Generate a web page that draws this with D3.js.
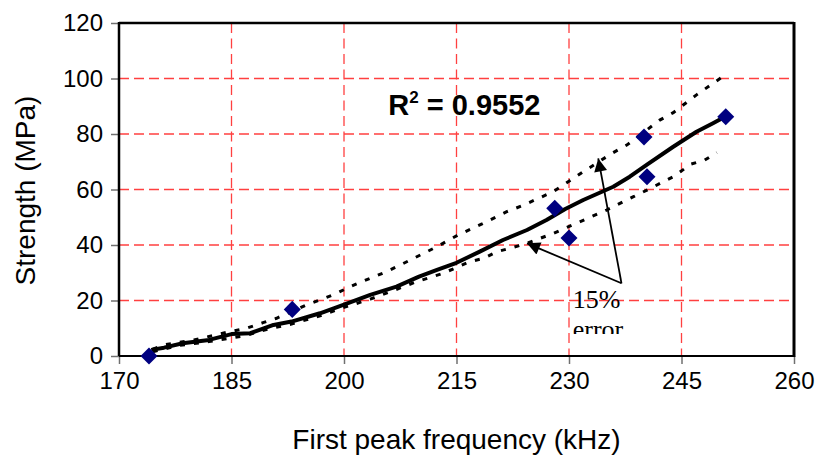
<!DOCTYPE html>
<html>
<head>
<meta charset="utf-8">
<script src="https://cdn.jsdelivr.net/npm/d3@7/dist/d3.min.js"></script>
<style>
  html, body { margin: 0; padding: 0; background: #fff; }
  svg { display: block; }
</style>
</head>
<body>
<svg id="chart" width="817" height="462"></svg>
<script>
// ---- Data ----
// Measured points (frequency kHz, strength MPa)
const pointFreq = [174, 193.1, 228.1, 230, 240, 240.4, 250.9];
const pointStrength = [0, 16.8, 53.2, 42.5, 78.9, 64.6, 86.2];

// Fitted curve (solid)
const fitFreq = [174.3, 176, 178.5, 182, 185, 187.5, 190.6, 193, 196.8, 200, 203.5, 207, 210, 212.4, 215, 218.1, 221.2, 224.4, 227, 229.5, 231.9, 235.9, 238.1, 240.4, 243.9, 247, 249.2, 250.8];
const fitStrength = [2.2, 3.0, 4.6, 5.8, 7.9, 8.2, 11.2, 12.4, 15.4, 18.5, 22.0, 25.0, 28.6, 31.0, 33.6, 37.6, 41.8, 45.4, 49.0, 53.0, 56.2, 61.0, 64.6, 69.0, 75.4, 80.8, 83.9, 86.2];

// Upper 15% bound (dotted)
const upperFreq = [174.5, 176, 180, 184.8, 187, 189.2, 191, 195, 197, 198.8, 200.6, 202.4, 205.7, 209, 212.4, 215.2, 218.4, 221.7, 223.7, 227.9, 231.9, 235.7, 237.7, 242.1, 243.9, 247, 249.5, 251];
const upperStrength = [2.5, 4.0, 5.8, 8.8, 10.0, 12.0, 13.6, 18.4, 20.4, 22.3, 24.7, 26.8, 30.4, 34.8, 39.4, 43.6, 47.6, 52.0, 54.1, 59.2, 66.4, 73.0, 76.0, 85.0, 87.7, 94.1, 98.8, 101.6];

// Lower 15% bound (dotted)
const lowerFreq = [174.5, 178, 182, 186.6, 190, 193, 196.8, 200, 203.5, 206.5, 209.7, 213.2, 216.8, 218.6, 220.4, 222.1, 224.4, 227.9, 231.5, 235, 238.6, 240.4, 243.9, 246.3, 248.1, 249.7];
const lowerStrength = [1.5, 3.8, 5.2, 7.2, 9.8, 11.5, 14.5, 17.5, 20.5, 23.5, 26.8, 29.8, 34.0, 35.2, 37.6, 38.8, 40.6, 44.2, 48.4, 52.6, 57.4, 59.8, 64.6, 69.2, 70.6, 73.3];

// Axis ticks
const xTicks = [170, 185, 200, 215, 230, 245, 260];
const yTicks = [0, 20, 40, 60, 80, 100, 120];

// Annotations (data units)
const r2Label = { text: "0.9552", x: 205.9, y: 86.8 };
const arrowOrigin = [237.0, 26.2];
const arrowTips = [[233.9, 71.2], [224.4, 40.6]];
const errorLabel = { lines: ["15%", "error"], x: 230.5, y: 17.3, clipY: 7.9 };

// ---- Layout ----
const svg = d3.select("#chart");
const m = { left: 119, right: 794, top: 23, bottom: 356 };
const x = d3.scaleLinear().domain([170, 260]).range([m.left, m.right]);
const y = d3.scaleLinear().domain([0, 120]).range([m.bottom, m.top]);

const sans = "'Liberation Sans', Arial, sans-serif";
const serif = "'Liberation Serif', 'Times New Roman', serif";

// Grid
const grid = svg.append("g");
grid.selectAll("line.h").data(yTicks.filter(d => d > 0 && d < 120)).join("line")
  .attr("x1", m.left).attr("x2", m.right)
  .attr("y1", d => y(d)).attr("y2", d => y(d))
  .attr("stroke", "#ff4040").attr("stroke-width", 1.3)
  .attr("stroke-dasharray", "10,5");
grid.selectAll("line.v").data(xTicks.filter(d => d > 170 && d < 260)).join("line")
  .attr("x1", d => x(d)).attr("x2", d => x(d))
  .attr("y1", m.top).attr("y2", m.bottom)
  .attr("stroke", "#ff4040").attr("stroke-width", 1.3)
  .attr("stroke-dasharray", "10,5.5");

// Axes
const xAxis = svg.append("g").attr("transform", `translate(0,${m.bottom})`)
  .call(d3.axisBottom(x).tickValues(xTicks).tickSize(8).tickPadding(8).tickFormat(d3.format("d")));
const yAxis = svg.append("g").attr("transform", `translate(${m.left},0)`)
  .call(d3.axisLeft(y).tickValues(yTicks).tickSize(8).tickPadding(8).tickFormat(d3.format("d")));
[xAxis, yAxis].forEach(a => {
  a.select(".domain").remove();
  a.selectAll(".tick line").attr("stroke", "#707070").attr("stroke-width", 1.5);
  a.selectAll(".tick text").attr("font-family", sans).attr("font-size", 24).attr("fill", "#000");
});
xAxis.selectAll(".tick text").attr("dy", "0.71em");

// Frame
svg.append("line").attr("x1", m.left).attr("x2", m.right).attr("y1", m.bottom).attr("y2", m.bottom)
  .attr("stroke", "#000").attr("stroke-width", 2);
svg.append("line").attr("x1", m.left).attr("x2", m.right).attr("y1", m.top).attr("y2", m.top)
  .attr("stroke", "#000").attr("stroke-width", 2.5);
svg.append("line").attr("x1", m.left).attr("x2", m.left).attr("y1", m.top - 1).attr("y2", m.bottom)
  .attr("stroke", "#000").attr("stroke-width", 2.5);
svg.append("line").attr("x1", m.right).attr("x2", m.right).attr("y1", m.top - 1).attr("y2", m.bottom + 1)
  .attr("stroke", "#000").attr("stroke-width", 3);

// Lines
const line = d3.line().x(d => x(d[0])).y(d => y(d[1]));
const zip = (a, b) => a.map((v, i) => [v, b[i]]);

svg.append("path").datum(zip(upperFreq, upperStrength)).attr("d", line)
  .attr("fill", "none").attr("stroke", "#000").attr("stroke-width", 3).attr("stroke-dasharray", "5,9");
svg.append("path").datum(zip(lowerFreq, lowerStrength)).attr("d", line)
  .attr("fill", "none").attr("stroke", "#000").attr("stroke-width", 3).attr("stroke-dasharray", "5,9");
svg.append("path").datum(zip(fitFreq, fitStrength)).attr("d", line)
  .attr("fill", "none").attr("stroke", "#000").attr("stroke-width", 4).attr("stroke-linejoin", "round");

// Points (square diamonds)
svg.selectAll("path.pt").data(zip(pointFreq, pointStrength)).join("path")
  .attr("d", d3.symbol().type(d3.symbolSquare).size(145))
  .attr("transform", d => `translate(${x(d[0])},${y(d[1])}) rotate(45)`)
  .attr("fill", "#000080");

// Arrows
const defs = svg.append("defs");
defs.append("marker").attr("id", "ah").attr("viewBox", "0 0 10 10")
  .attr("refX", 10).attr("refY", 5).attr("markerWidth", 16).attr("markerHeight", 13)
  .attr("markerUnits", "userSpaceOnUse").attr("orient", "auto")
  .append("path").attr("d", "M0,0 L10,5 L0,10 Z").attr("fill", "#000");
svg.selectAll("line.arrow").data(arrowTips).join("line")
  .attr("x1", x(arrowOrigin[0])).attr("y1", y(arrowOrigin[1]))
  .attr("x2", d => x(d[0])).attr("y2", d => y(d[1]))
  .attr("stroke", "#000").attr("stroke-width", 1.8).attr("marker-end", "url(#ah)");

// Error label (clipped like a text box)
defs.append("clipPath").attr("id", "errclip").append("rect")
  .attr("x", x(errorLabel.x) - 10).attr("y", y(errorLabel.y) - 30)
  .attr("width", 80).attr("height", y(errorLabel.clipY) - (y(errorLabel.y) - 30));
const et = svg.append("text").attr("clip-path", "url(#errclip)")
  .attr("font-family", serif).attr("font-size", 26).attr("fill", "#000");
et.selectAll("tspan").data(errorLabel.lines).join("tspan")
  .attr("x", x(errorLabel.x)).attr("y", (d, i) => y(errorLabel.y) + i * 30)
  .text(d => d);

// R² label
const r2 = svg.append("text").attr("x", x(r2Label.x)).attr("y", y(r2Label.y))
  .attr("font-family", sans).attr("font-size", 29).attr("font-weight", "bold").attr("fill", "#000");
r2.append("tspan").text("R");
r2.append("tspan").attr("font-size", 17).attr("dy", -12).text("2");
r2.append("tspan").attr("dy", 12).text(" = " + r2Label.text);

// Axis titles
svg.append("text").attr("x", (m.left + m.right) / 2).attr("y", 449)
  .attr("text-anchor", "middle").attr("font-family", sans).attr("font-size", 28).attr("fill", "#000")
  .text("First peak frequency (kHz)");
svg.append("text").attr("transform", `translate(34.5,${(m.top + m.bottom) / 2 + 1}) rotate(-90)`)
  .attr("text-anchor", "middle").attr("font-family", sans).attr("font-size", 28).attr("fill", "#000")
  .text("Strength (MPa)");
</script>
</body>
</html>
